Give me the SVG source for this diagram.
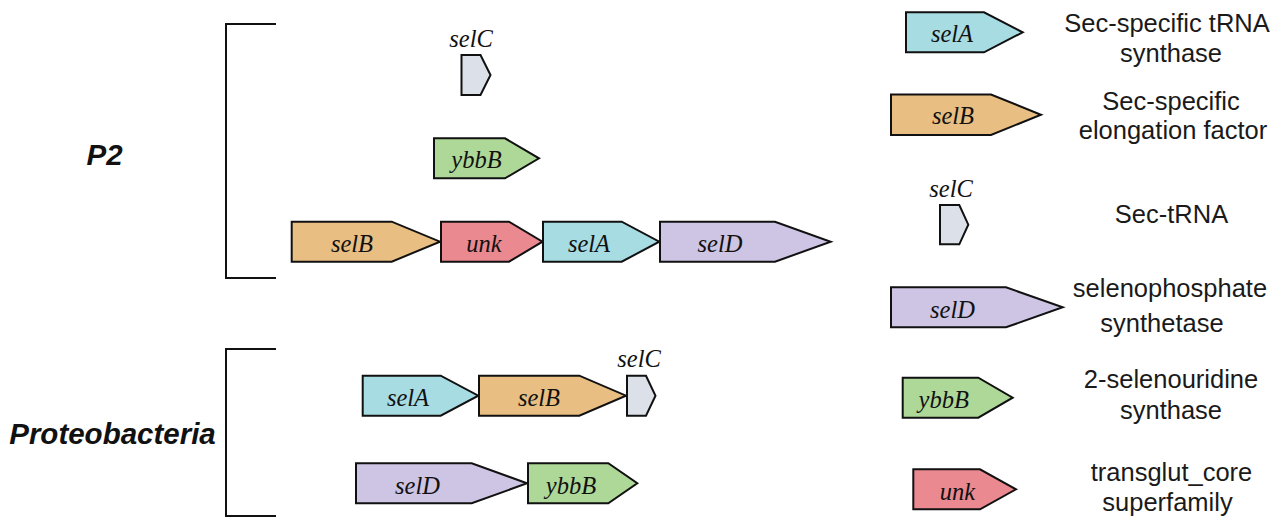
<svg xmlns="http://www.w3.org/2000/svg" width="1287" height="521" viewBox="0 0 1287 521">
<style>
.g{stroke:#111;stroke-width:2;stroke-linejoin:miter}
.selA{fill:#A7DCE3}.selB{fill:#E8BE82}.unk{fill:#EB8991}.selD{fill:#CEC4E3}.ybbB{fill:#AED898}.selC{fill:#DCE0E8}
.gl{font-family:"Liberation Serif","Times New Roman",serif;font-style:italic;font-size:24.5px;fill:#111;text-anchor:middle}
.lt{font-family:"Liberation Sans",Arial,sans-serif;font-size:25.5px;fill:#1a1a1a;text-anchor:middle}
.grp{font-family:"Liberation Sans",Arial,sans-serif;font-style:italic;font-weight:bold;font-size:29.5px;fill:#111;text-anchor:middle}
.br{fill:none;stroke:#111;stroke-width:2}
</style>
<g id="connectors">
<path class="br" d="M276,24 H226 V278 H276"/>
<path class="br" d="M276,349 H226 V516 H276"/>
</g>
<g id="label-P2"><text class="grp" x="104.5" y="165">P2</text></g>
<g id="label-Proteobacteria"><text class="grp" x="112.5" y="443.5">Proteobacteria</text></g>

<g id="p2-selC"><polygon class="g selC" points="461.5,55 480.5,55 490.5,75 480.5,95 461.5,95"/><text class="gl" x="471" y="46.5">selC</text></g>
<g id="p2-ybbB"><polygon class="g ybbB" points="434,138.3 505,138.3 539,158.3 505,178.3 434,178.3"/><text class="gl" x="476.5" y="168.3">ybbB</text></g>
<g id="p2-selB"><polygon class="g selB" points="291.7,221.7 391.7,221.7 440,241.7 391.7,261.7 291.7,261.7"/><text class="gl" x="352" y="251.7">selB</text></g>
<g id="p2-unk"><polygon class="g unk" points="441,221.7 509,221.7 542.5,241.7 509,261.7 441,261.7"/><text class="gl" x="484" y="251.7">unk</text></g>
<g id="p2-selA"><polygon class="g selA" points="543,221.7 621.7,221.7 659.3,241.7 621.7,261.7 543,261.7"/><text class="gl" x="589" y="251.7">selA</text></g>
<g id="p2-selD"><polygon class="g selD" points="660,221.7 775,221.7 830.7,241.7 775,261.7 660,261.7"/><text class="gl" x="720" y="251.7">selD</text></g>

<g id="pb-selA"><polygon class="g selA" points="362.7,375.7 440.7,375.7 478.3,395.7 440.7,415.7 362.7,415.7"/><text class="gl" x="408" y="406">selA</text></g>
<g id="pb-selB"><polygon class="g selB" points="479,375.7 579.3,375.7 626,395.7 579.3,415.7 479,415.7"/><text class="gl" x="539" y="406">selB</text></g>
<g id="pb-selC"><polygon class="g selC" points="627,375.7 646,375.7 655.5,395.7 646,415.7 627,415.7"/><text class="gl" x="639" y="366.7">selC</text></g>
<g id="pb-selD"><polygon class="g selD" points="356,463.3 471.7,463.3 527,483.3 471.7,503.3 356,503.3"/><text class="gl" x="417.5" y="494">selD</text></g>
<g id="pb-ybbB"><polygon class="g ybbB" points="528,463.3 608.3,463.3 637.3,483.3 608.3,503.3 528,503.3"/><text class="gl" x="571" y="494">ybbB</text></g>

<g id="legend-selA"><polygon class="g selA" points="906,12.3 984,12.3 1022.7,32.3 984,52.3 906,52.3"/><text class="gl" x="952" y="41.7">selA</text>
<text class="lt" x="1167" y="31.7">Sec-specific tRNA</text><text class="lt" x="1171" y="61.7">synthase</text></g>
<g id="legend-selB"><polygon class="g selB" points="891,94.5 991,94.5 1041,114.7 991,135 891,135"/><text class="gl" x="953" y="124">selB</text>
<text class="lt" x="1171" y="109.5">Sec-specific</text><text class="lt" x="1173" y="139">elongation factor</text></g>
<g id="legend-selC"><polygon class="g selC" points="940,205 959.3,205 968.3,224.7 959.3,244.3 940,244.3"/><text class="gl" x="951" y="196.7">selC</text>
<text class="lt" x="1171.5" y="223">Sec-tRNA</text></g>
<g id="legend-selD"><polygon class="g selD" points="891,287.3 1006,287.3 1062.7,307.3 1006,327.3 891,327.3"/><text class="gl" x="952.5" y="318.3">selD</text>
<text class="lt" x="1170" y="296.7">selenophosphate</text><text class="lt" x="1162" y="331.7">synthetase</text></g>
<g id="legend-ybbB"><polygon class="g ybbB" points="902.7,377.7 978.3,377.7 1012.7,397.7 978.3,417.7 902.7,417.7"/><text class="gl" x="943.7" y="408.3">ybbB</text>
<text class="lt" x="1171" y="388.3">2-selenouridine</text><text class="lt" x="1171" y="419.3">synthase</text></g>
<g id="legend-unk"><polygon class="g unk" points="913.3,469.3 980,469.3 1016,489.3 980,509.3 913.3,509.3"/><text class="gl" x="957.5" y="500">unk</text>
<text class="lt" x="1171.5" y="480.7">transglut_core</text><text class="lt" x="1167.5" y="510.7">superfamily</text></g>
</svg>
